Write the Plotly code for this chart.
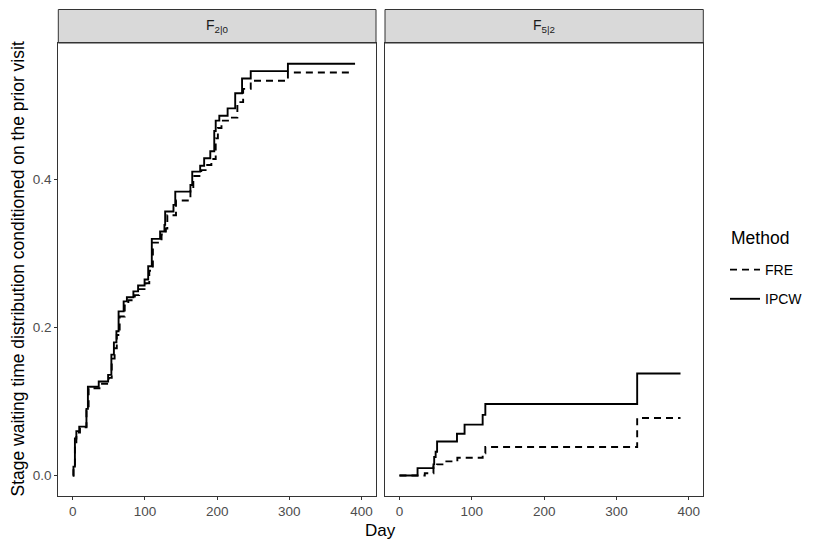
import plotly.graph_objects as go

W, H = 822, 548

# ---- data ----
left_ipcw_day = [0, 1, 3, 5, 9, 19, 21, 36, 49, 53.5, 57, 60.5, 63.5, 70.5, 75, 84, 90.5, 99.5,
                 104.5, 109.5, 121, 127, 128, 139.5, 142, 163, 165.5, 176.5, 182, 190.5, 196,
                 198, 203, 214.5, 225, 234.5, 246.5, 298, 391]
left_ipcw_val = [0, 0.012, 0.05, 0.06, 0.066, 0.09, 0.12, 0.127, 0.136, 0.1635, 0.18, 0.195,
                 0.222, 0.2355, 0.241, 0.249, 0.257, 0.265, 0.283, 0.32, 0.33, 0.339, 0.357,
                 0.366, 0.384, 0.393, 0.411, 0.419, 0.429, 0.4385, 0.466, 0.48, 0.4865, 0.4965,
                 0.517, 0.537, 0.547, 0.557, 0.557]

left_fre_day = [0, 1, 3, 5, 10, 19, 22, 37, 50, 54, 58, 61, 65, 72, 77, 86, 92, 101, 106, 111,
                123, 129, 131, 143, 163, 167, 178, 184, 192, 198, 201, 206, 217, 228, 236,
                246.5, 298, 388]
left_fre_val = [0, 0.01, 0.045, 0.058, 0.065, 0.088, 0.118, 0.124, 0.132, 0.158, 0.172, 0.19,
                0.215, 0.23, 0.237, 0.244, 0.252, 0.26, 0.277, 0.315, 0.326, 0.334, 0.352,
                0.372, 0.388, 0.405, 0.413, 0.42, 0.428, 0.456, 0.47, 0.48, 0.484, 0.505,
                0.523, 0.534, 0.545, 0.545]

right_ipcw_day = [0, 25, 47, 48, 50, 52, 79.5, 90, 115, 118.7, 328.6, 388.5]
right_ipcw_val = [0, 0.0099, 0.015, 0.025, 0.032, 0.046, 0.0565, 0.0687, 0.082, 0.0966, 0.138, 0.138]

right_fre_day = [0, 35, 47, 52, 62, 80, 115, 118.7, 328.6, 388.5]
right_fre_val = [0, 0.003, 0.012, 0.015, 0.019, 0.024, 0.030, 0.0384, 0.0777, 0.0777]

panel_labels = ["F<sub>2|0</sub>", "F<sub>5|2</sub>"]
methods = ["FRE", "IPCW"]
x_ticks = [0, 100, 200, 300, 400]
y_ticks = [0.0, 0.2, 0.4]
y_ticklabels = ["0.0", "0.2", "0.4"]

# ---- layout geometry (pixels) ----
px_l = (58.3, 376.0)
px_r = (385.0, 703.3)
py_top, py_bot = 43.0, 496.0
strip_top = 9.5

def fx(p):
    return p / W

def fy(p):
    return 1 - p / H

fig = go.Figure()
line_col = "black"
dash = "7px,5px"

fig.add_trace(go.Scatter(x=left_fre_day, y=left_fre_val, mode="lines", line_shape="hv",
                         line=dict(color=line_col, width=1.9, dash=dash), name=methods[0],
                         legendgroup="FRE", xaxis="x", yaxis="y"))
fig.add_trace(go.Scatter(x=left_ipcw_day, y=left_ipcw_val, mode="lines", line_shape="hv",
                         line=dict(color=line_col, width=1.9), name=methods[1],
                         legendgroup="IPCW", xaxis="x", yaxis="y"))
fig.add_trace(go.Scatter(x=right_fre_day, y=right_fre_val, mode="lines", line_shape="hv",
                         line=dict(color=line_col, width=1.9, dash=dash), name=methods[0],
                         legendgroup="FRE", showlegend=False, xaxis="x2", yaxis="y2"))
fig.add_trace(go.Scatter(x=right_ipcw_day, y=right_ipcw_val, mode="lines", line_shape="hv",
                         line=dict(color=line_col, width=1.9), name=methods[1],
                         legendgroup="IPCW", showlegend=False, xaxis="x2", yaxis="y2"))

axis_common = dict(showline=True, mirror=True, linecolor="#333333", linewidth=1,
                   showgrid=False, zeroline=False, ticks="outside", ticklen=3,
                   tickcolor="#333333", tickwidth=1,
                   tickfont=dict(family="Liberation Sans, Arial, sans-serif", size=13.5, color="#4D4D4D"))

xr = [-20, 420]
yr = [-0.0278, 0.585]

fig.update_layout(
    width=W, height=H,
    margin=dict(l=0, r=0, t=0, b=0),
    paper_bgcolor="white", plot_bgcolor="white",
    font=dict(family="Liberation Sans, Arial, sans-serif", color="black"),
    xaxis=dict(domain=[fx(px_l[0]), fx(px_l[1])], range=xr, tickvals=x_ticks, anchor="y", **axis_common),
    yaxis=dict(domain=[fy(py_bot), fy(py_top)], range=yr, tickvals=y_ticks, ticktext=y_ticklabels,
               anchor="x", **axis_common),
    xaxis2=dict(domain=[fx(px_r[0]), fx(px_r[1])], range=xr, tickvals=x_ticks, anchor="y2", **axis_common),
    yaxis2=dict(domain=[fy(py_bot), fy(py_top)], range=yr, anchor="x2",
                showline=True, mirror=True, linecolor="#333333", linewidth=1,
                showgrid=False, zeroline=False, showticklabels=False, ticks=""),
    legend=dict(x=fx(725), y=fy(254), xanchor="left", yanchor="top",
                font=dict(size=14, color="black"), bgcolor="rgba(0,0,0,0)",
                tracegroupgap=8),
    showlegend=True,
)

shapes = []
annotations = []
for (x0, x1), lab in zip([px_l, px_r], panel_labels):
    shapes.append(dict(type="rect", xref="paper", yref="paper",
                       x0=fx(x0), x1=fx(x1), y0=fy(py_top), y1=fy(strip_top),
                       fillcolor="#D9D9D9", line=dict(color="#333333", width=1), layer="below"))
    annotations.append(dict(xref="paper", yref="paper", x=fx((x0 + x1) / 2),
                            y=fy((py_top + strip_top) / 2), text=lab, showarrow=False,
                            xanchor="center", yanchor="middle",
                            font=dict(size=14, color="#1A1A1A")))

annotations.append(dict(xref="paper", yref="paper", x=fx(729), y=fy(238),
                        text="Method", showarrow=False, xanchor="left", yanchor="middle",
                        font=dict(size=17.5, color="black")))
annotations.append(dict(xref="paper", yref="paper", x=fx((px_l[0] + px_r[1]) / 2), y=fy(530),
                        text="Day", showarrow=False, xanchor="center", yanchor="middle",
                        font=dict(size=17, color="black")))
annotations.append(dict(xref="paper", yref="paper", x=fx(17), y=fy((py_top + py_bot) / 2),
                        text="Stage waiting time distribution conditioned on the prior visit",
                        textangle=-90, showarrow=False, xanchor="center", yanchor="middle",
                        font=dict(size=17.5, color="black")))

fig.update_layout(shapes=shapes, annotations=annotations)

fig.write_html("out.html", config={"displayModeBar": False},
               post_script="document.body.style.margin='0';")
